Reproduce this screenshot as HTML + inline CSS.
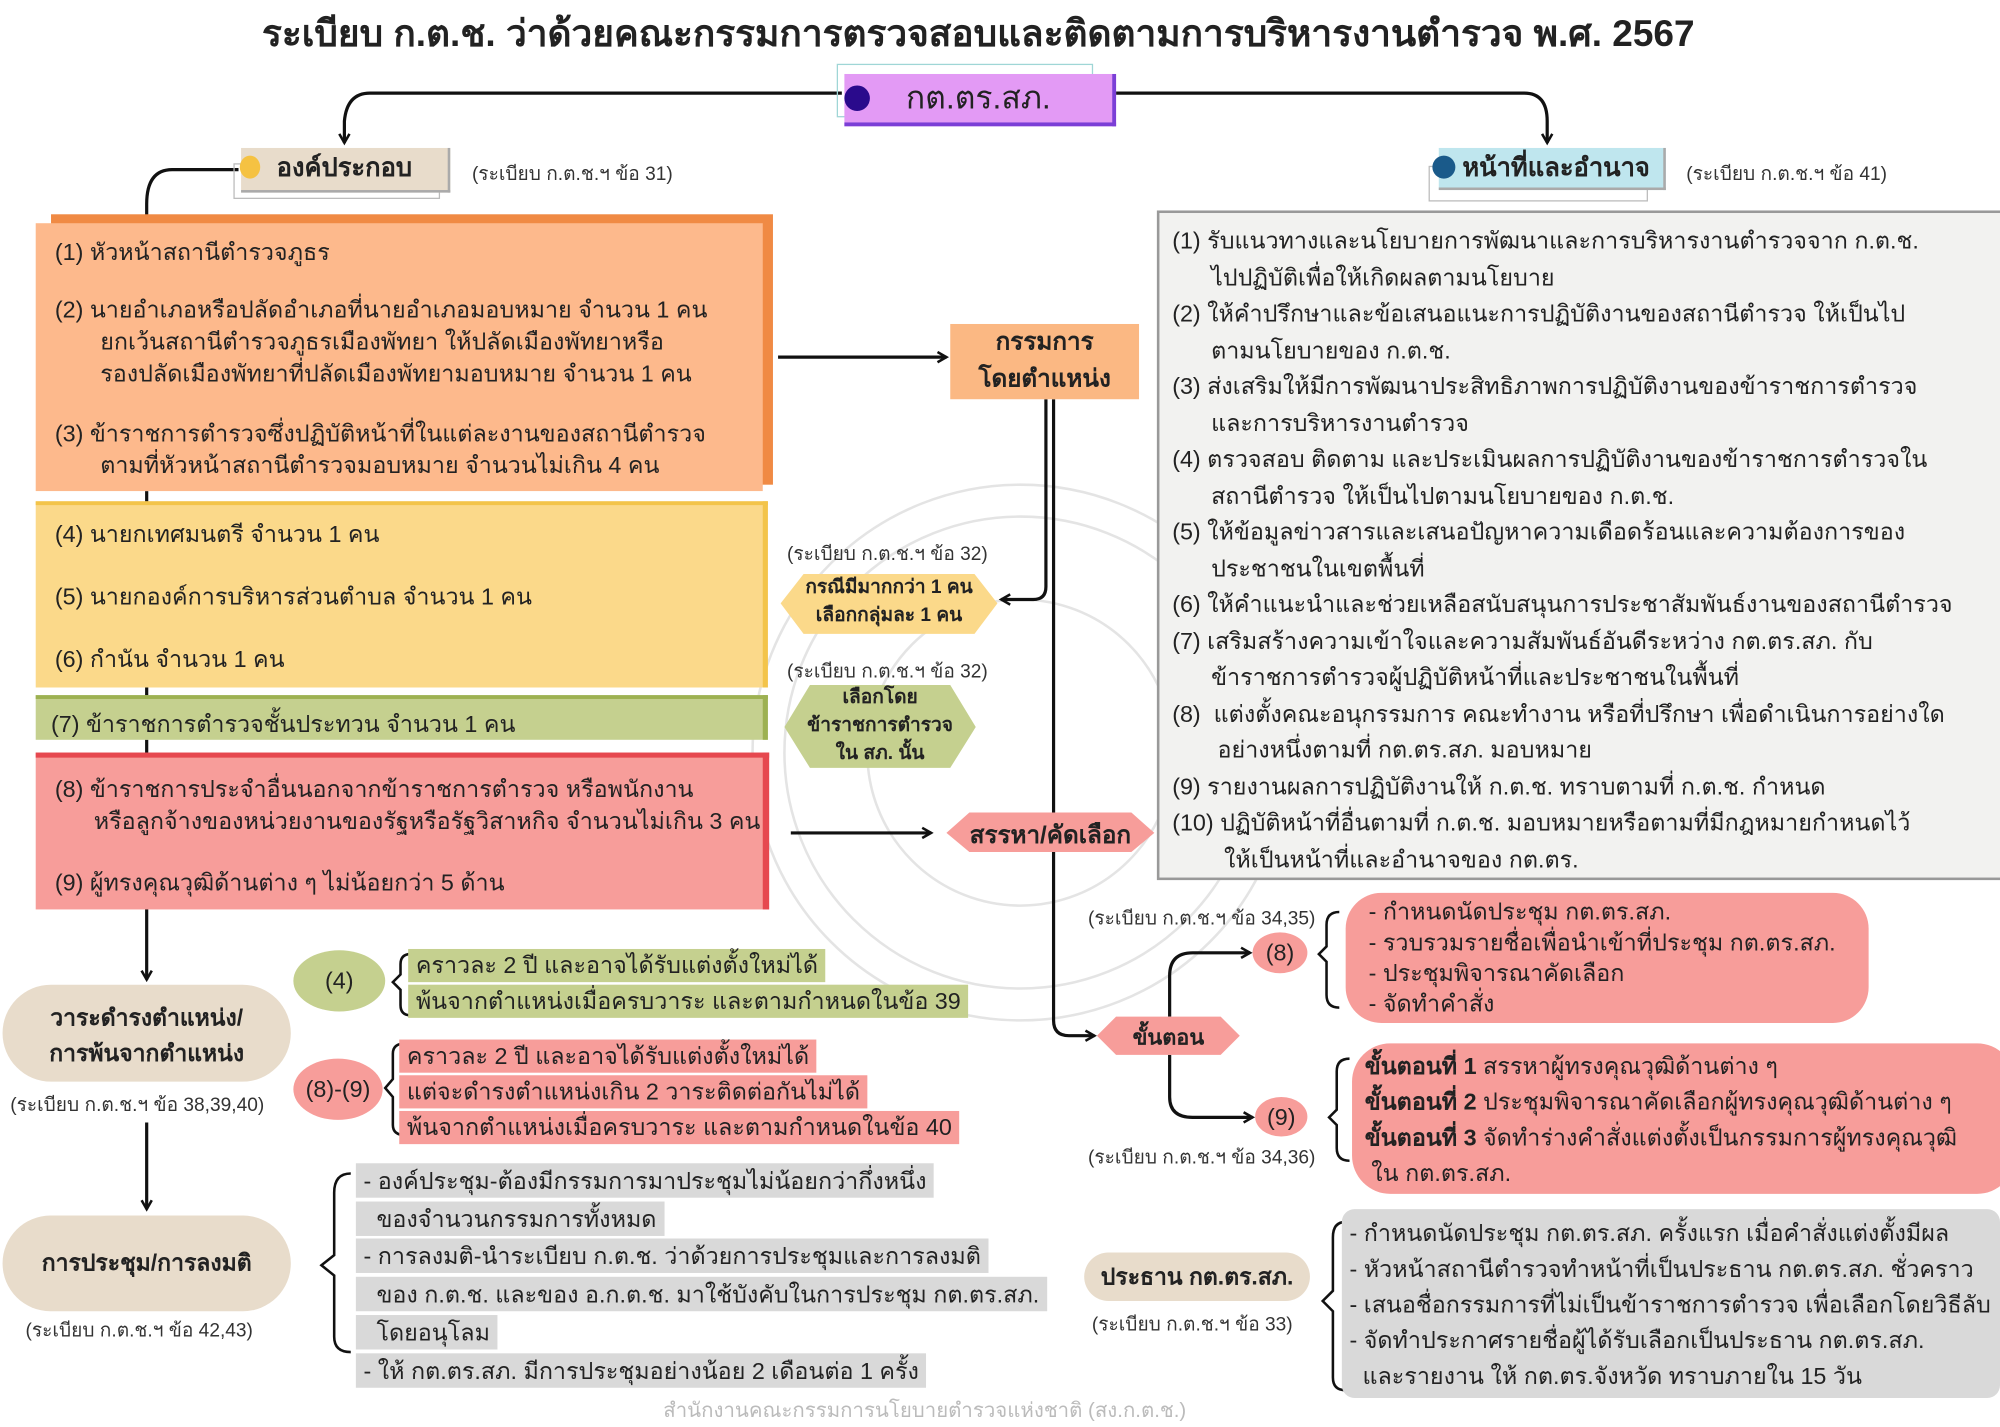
<!DOCTYPE html>
<html><head><meta charset="utf-8">
<style>
html,body{margin:0;padding:0;background:#fff;}
body{width:2000px;height:1414px;overflow:hidden;position:relative;}
#s{position:absolute;left:0;top:0;width:1568px;height:1109px;transform:scale(1.27551);transform-origin:0 0;font-family:"Liberation Sans","Noto Sans CJK SC",sans-serif;color:#222;}
.a{position:absolute;white-space:nowrap;}
.t{font-size:18.3px;line-height:25px;}
.n{font-size:14px;color:#333;}
.b{font-weight:bold;}
.hl{display:inline-block;padding:0 6px;margin:1px 0;}
</style></head><body><div id="s">
<svg class="a" style="left:0;top:0" width="1568" height="1109">
<defs><marker id="ar" markerWidth="10" markerHeight="10" refX="8" refY="5" orient="auto" markerUnits="userSpaceOnUse"><path d="M1,1 L8,5 L1,9" fill="none" stroke="#111" stroke-width="2"/></marker></defs>
<g fill="none" stroke="#e4e4e4" stroke-width="2">
<circle cx="800" cy="590" r="210"/><circle cx="800" cy="590" r="185"/><circle cx="800" cy="590" r="120"/>
</g>
<g fill="none" stroke="#111" stroke-width="2.5">
<path d="M660,73 H290 Q272,73 270,95 V112" marker-end="url(#ar)"/>
<path d="M875,73 H1195 Q1213,73 1213,95 V112" marker-end="url(#ar)"/>
<path d="M187,133 H135 Q115,133 115,160 V170"/>
<path d="M610,280 H742" marker-end="url(#ar)"/>
<path d="M820,313 V460 Q820,470 810,470 H785" marker-end="url(#ar)"/>
<path d="M826,313 V800 Q826,812 838,812 H858" marker-end="url(#ar)"/>
<path d="M620,653 H730" marker-end="url(#ar)"/>
<path d="M115,385 V395 M115,538 V548 M115,580 V592"/>
<path d="M115,712 V768" marker-end="url(#ar)"/>
<path d="M115,880 V948" marker-end="url(#ar)"/>
<path d="M917,797 V765 Q917,747 935,747 H980" marker-end="url(#ar)"/>
<path d="M917,827 V860 Q917,876 935,876 H982" marker-end="url(#ar)"/>
<path d="M1050,715 Q1040,715 1040,725 V742 L1034,748 L1040,754 V780 Q1040,790 1050,790" stroke-width="2"/>
<path d="M1058,830 Q1048,830 1048,840 V870 L1042,876 L1048,882 V900 Q1048,910 1058,910" stroke-width="2"/>
<path d="M322,748 Q314,748 314,756 V764 L308,770 L314,776 V788 Q314,796 322,796" stroke-width="2"/>
<path d="M318,818 Q308,818 308,826 V846 L302,853 L308,860 V882 Q308,890 318,890" stroke-width="2"/>
<path d="M275,920 Q262,920 262,935 V984 L252,992 L262,1000 V1048 Q262,1060 275,1060" stroke-width="2"/>
<path d="M1055,958 Q1045,958 1045,970 V1012 L1037,1020 L1045,1028 V1080 Q1045,1090 1055,1090" stroke-width="2"/>
</g>
<polygon points="630,450 764,450 782,473 764,497 630,497 612,473" fill="#fbd98a"/>
<polygon points="635,537 745,537 765,570 745,602 635,602 615,570" fill="#c5d08f"/>
<polygon points="760,637 887,637 905,653 887,668 760,668 742,653" fill="#f79d9a"/>
<polygon points="875,797 957,797 972,812 957,827 875,827 860,812" fill="#f79d9a"/>
<g>
<rect x="490" y="440" width="38" height="30" fill="#c9413c"/><rect x="525" y="430" width="30" height="28" fill="#7a6b6a"/>
<rect x="545" y="450" width="30" height="30" fill="#e6483f"/><rect x="480" y="470" width="30" height="35" fill="#2d3a4a"/>
<rect x="510" y="480" width="35" height="35" fill="#e67b3a"/><rect x="540" y="485" width="32" height="48" fill="#f2b830"/>
<rect x="490" y="505" width="30" height="30" fill="#f2b830"/><rect x="515" y="510" width="30" height="25" fill="#1d2833"/>
<rect x="455" y="440" width="20" height="95" fill="none" stroke="#7a5a3a" stroke-width="2"/>
<circle cx="470" cy="448" r="6" fill="#333"/><circle cx="585" cy="483" r="6" fill="#333"/>
<rect x="578" y="490" width="12" height="30" fill="#e6483f"/>
</g>
</svg>

<div class="a b" style="left:0;width:1534px;top:3px;text-align:center;font-size:29px;">ระเบียบ ก.ต.ช. ว่าด้วยคณะกรรมการตรวจสอบและติดตามการบริหารงานตำรวจ พ.ศ. 2567</div>

<div class="a" style="left:656px;top:50px;width:199px;height:40px;border:1px solid #9fd6d6;"></div>
<div class="a" style="left:662px;top:58px;width:210px;height:38px;background:#e39af5;border-right:3px solid #7b3fd6;border-bottom:3px solid #7b3fd6;font-size:25px;line-height:38px;text-align:center;">กต.ตร.สภ.</div>
<div class="a" style="left:662px;top:67px;width:20px;height:20px;border-radius:50%;background:#2a0a8c;"></div>

<div class="a" style="left:183px;top:128px;width:160px;height:26px;border:1px solid #bbb;"></div>
<div class="a b" style="left:189px;top:116px;width:162px;height:33px;background:#e8dccb;border-right:2px solid #aaa;border-bottom:2px solid #aaa;font-size:20px;line-height:33px;text-align:center;">องค์ประกอบ</div>
<div class="a" style="left:188px;top:122px;width:16px;height:18px;border-radius:50%;background:#f5c242;"></div>
<div class="a n" style="left:370px;top:124px;font-size:15px;">(ระเบียบ ก.ต.ช.ฯ ข้อ 31)</div>

<div class="a" style="left:1120px;top:130px;width:170px;height:26px;border:1px solid #bbb;"></div>
<div class="a b" style="left:1128px;top:116px;width:178px;height:33px;background:#bfe6ee;border-right:2px solid #aaa;border-bottom:2px solid #aaa;font-size:20px;line-height:33px;text-align:center;padding-left:8px;box-sizing:border-box;">หน้าที่และอำนาจ</div>
<div class="a" style="left:1123px;top:122px;width:18px;height:18px;border-radius:50%;background:#1a5a8a;"></div>
<div class="a n" style="left:1322px;top:124px;font-size:15px;">(ระเบียบ ก.ต.ช.ฯ ข้อ 41)</div>

<div class="a" style="left:40px;top:168px;width:566px;height:212px;background:#f08a44;"></div>
<div class="a t" style="left:28px;top:175px;width:570px;height:210px;background:#fdb98c;padding:0;">
<div class="a" style="left:15px;top:10px;">(1) หัวหน้าสถานีตำรวจภูธร</div>
<div class="a" style="left:15px;top:55px;">(2) นายอำเภอหรือปลัดอำเภอที่นายอำเภอมอบหมาย จำนวน 1 คน<br>&nbsp;&nbsp;&nbsp;&nbsp;&nbsp;&nbsp;&nbsp;ยกเว้นสถานีตำรวจภูธรเมืองพัทยา ให้ปลัดเมืองพัทยาหรือ<br>&nbsp;&nbsp;&nbsp;&nbsp;&nbsp;&nbsp;&nbsp;รองปลัดเมืองพัทยาที่ปลัดเมืองพัทยามอบหมาย จำนวน 1 คน</div>
<div class="a" style="left:15px;top:152px;">(3) ข้าราชการตำรวจซึ่งปฏิบัติหน้าที่ในแต่ละงานของสถานีตำรวจ<br>&nbsp;&nbsp;&nbsp;&nbsp;&nbsp;&nbsp;&nbsp;ตามที่หัวหน้าสถานีตำรวจมอบหมาย จำนวนไม่เกิน 4 คน</div>
</div>
<div class="a t" style="left:28px;top:393px;width:570px;height:143px;background:#fbd98a;border-top:3px solid #f3c44a;border-right:4px solid #f3c44a;">
<div class="a" style="left:15px;top:10px;">(4) นายกเทศมนตรี จำนวน 1 คน</div>
<div class="a" style="left:15px;top:59px;">(5) นายกองค์การบริหารส่วนตำบล จำนวน 1 คน</div>
<div class="a" style="left:15px;top:108px;">(6) กำนัน จำนวน 1 คน</div>
</div>
<div class="a t" style="left:28px;top:545px;width:570px;height:32px;background:#c5d08f;border-top:3px solid #9db152;border-right:4px solid #9db152;"><div class="a" style="left:12px;top:7px;">(7) ข้าราชการตำรวจชั้นประทวน จำนวน 1 คน</div></div>
<div class="a t" style="left:28px;top:590px;width:570px;height:119px;background:#f79d9a;border-top:4px solid #e6484f;border-right:5px solid #e6484f;">
<div class="a" style="left:15px;top:12px;">(8) ข้าราชการประจำอื่นนอกจากข้าราชการตำรวจ หรือพนักงาน<br>&nbsp;&nbsp;&nbsp;&nbsp;&nbsp;&nbsp;หรือลูกจ้างของหน่วยงานของรัฐหรือรัฐวิสาหกิจ จำนวนไม่เกิน 3 คน</div>
<div class="a" style="left:15px;top:85px;">(9) ผู้ทรงคุณวุฒิด้านต่าง ๆ ไม่น้อยกว่า 5 ด้าน</div>
</div>

<div class="a b" style="left:745px;top:254px;width:148px;height:59px;background:#fbb883;font-size:19px;line-height:29px;text-align:center;">กรรมการ<br>โดยตำแหน่ง</div>
<div class="a n" style="left:617px;top:422px;font-size:15px;">(ระเบียบ ก.ต.ช.ฯ ข้อ 32)</div>
<div class="a b" style="left:612px;top:450px;width:170px;font-size:15px;line-height:22px;text-align:center;">กรณีมีมากกว่า 1 คน<br>เลือกกลุ่มละ 1 คน</div>
<div class="a n" style="left:617px;top:514px;font-size:15px;">(ระเบียบ ก.ต.ช.ฯ ข้อ 32)</div>
<div class="a b" style="left:615px;top:536px;width:150px;font-size:15px;line-height:22px;text-align:center;">เลือกโดย<br>ข้าราชการตำรวจ<br>ใน สภ. นั้น</div>
<div class="a b" style="left:742px;top:640px;width:163px;font-size:19px;text-align:center;">สรรหา/คัดเลือก</div>
<div class="a b" style="left:860px;top:800px;width:112px;font-size:17px;text-align:center;">ขั้นตอน</div>

<div class="a t" style="left:907px;top:165px;width:659px;height:521px;background:#f2f2f0;border:2px solid #999;line-height:28.5px;">
<div class="a" style="left:10px;top:8px;">(1) รับแนวทางและนโยบายการพัฒนาและการบริหารงานตำรวจจาก ก.ต.ช.<br>&nbsp;&nbsp;&nbsp;&nbsp;&nbsp;&nbsp;ไปปฏิบัติเพื่อให้เกิดผลตามนโยบาย<br>(2) ให้คำปรึกษาและข้อเสนอแนะการปฏิบัติงานของสถานีตำรวจ ให้เป็นไป<br>&nbsp;&nbsp;&nbsp;&nbsp;&nbsp;&nbsp;ตามนโยบายของ ก.ต.ช.<br>(3) ส่งเสริมให้มีการพัฒนาประสิทธิภาพการปฏิบัติงานของข้าราชการตำรวจ<br>&nbsp;&nbsp;&nbsp;&nbsp;&nbsp;&nbsp;และการบริหารงานตำรวจ<br>(4) ตรวจสอบ ติดตาม และประเมินผลการปฏิบัติงานของข้าราชการตำรวจใน<br>&nbsp;&nbsp;&nbsp;&nbsp;&nbsp;&nbsp;สถานีตำรวจ ให้เป็นไปตามนโยบายของ ก.ต.ช.<br>(5) ให้ข้อมูลข่าวสารและเสนอปัญหาความเดือดร้อนและความต้องการของ<br>&nbsp;&nbsp;&nbsp;&nbsp;&nbsp;&nbsp;ประชาชนในเขตพื้นที่<br>(6) ให้คำแนะนำและช่วยเหลือสนับสนุนการประชาสัมพันธ์งานของสถานีตำรวจ<br>(7) เสริมสร้างความเข้าใจและความสัมพันธ์อันดีระหว่าง กต.ตร.สภ. กับ<br>&nbsp;&nbsp;&nbsp;&nbsp;&nbsp;&nbsp;ข้าราชการตำรวจผู้ปฏิบัติหน้าที่และประชาชนในพื้นที่<br>(8)&nbsp; แต่งตั้งคณะอนุกรรมการ คณะทำงาน หรือที่ปรึกษา เพื่อดำเนินการอย่างใด<br>&nbsp;&nbsp;&nbsp;&nbsp;&nbsp;&nbsp;&nbsp;อย่างหนึ่งตามที่ กต.ตร.สภ. มอบหมาย<br>(9) รายงานผลการปฏิบัติงานให้ ก.ต.ช. ทราบตามที่ ก.ต.ช. กำหนด<br>(10) ปฏิบัติหน้าที่อื่นตามที่ ก.ต.ช. มอบหมายหรือตามที่มีกฎหมายกำหนดไว้<br>&nbsp;&nbsp;&nbsp;&nbsp;&nbsp;&nbsp;&nbsp;&nbsp;ให้เป็นหน้าที่และอำนาจของ กต.ตร.</div>
</div>

<div class="a n" style="left:853px;top:708px;font-size:15px;">(ระเบียบ ก.ต.ช.ฯ ข้อ 34,35)</div>
<div class="a n" style="left:853px;top:895px;font-size:15px;">(ระเบียบ ก.ต.ช.ฯ ข้อ 34,36)</div>
<div class="a t" style="left:982px;top:731px;width:43px;height:32px;border-radius:50%;background:#f79d9a;text-align:center;line-height:32px;">(8)</div>
<div class="a t" style="left:984px;top:860px;width:41px;height:31px;border-radius:50%;background:#f79d9a;text-align:center;line-height:31px;">(9)</div>
<div class="a t" style="left:1055px;top:700px;width:410px;height:102px;border-radius:28px;background:#f79d9a;line-height:24px;"><div class="a" style="left:18px;top:3px;">- กำหนดนัดประชุม กต.ตร.สภ.<br>- รวบรวมรายชื่อเพื่อนำเข้าที่ประชุม กต.ตร.สภ.<br>- ประชุมพิจารณาคัดเลือก<br>- จัดทำคำสั่ง</div></div>
<div class="a t" style="left:1060px;top:818px;width:520px;height:118px;border-radius:30px;background:#f79d9a;line-height:28px;"><div class="a" style="left:10px;top:4px;"><b>ขั้นตอนที่ 1</b> สรรหาผู้ทรงคุณวุฒิด้านต่าง ๆ<br><b>ขั้นตอนที่ 2</b> ประชุมพิจารณาคัดเลือกผู้ทรงคุณวุฒิด้านต่าง ๆ<br><b>ขั้นตอนที่ 3</b> จัดทำร่างคำสั่งแต่งตั้งเป็นกรรมการผู้ทรงคุณวุฒิ<br>&nbsp;ใน กต.ตร.สภ.</div></div>

<div class="a b" style="left:850px;top:982px;width:177px;height:38px;border-radius:19px;background:#e8dccb;font-size:18px;line-height:38px;text-align:center;">ประธาน กต.ตร.สภ.</div>
<div class="a n" style="left:856px;top:1026px;font-size:15px;">(ระเบียบ ก.ต.ช.ฯ ข้อ 33)</div>
<div class="a t" style="left:1052px;top:948px;width:516px;height:148px;border-radius:10px;background:#d9d9d9;line-height:28px;"><div class="a" style="left:6px;top:5px;">- กำหนดนัดประชุม กต.ตร.สภ. ครั้งแรก เมื่อคำสั่งแต่งตั้งมีผล<br>- หัวหน้าสถานีตำรวจทำหน้าที่เป็นประธาน กต.ตร.สภ. ชั่วคราว<br>- เสนอชื่อกรรมการที่ไม่เป็นข้าราชการตำรวจ เพื่อเลือกโดยวิธีลับ<br>- จัดทำประกาศรายชื่อผู้ได้รับเลือกเป็นประธาน กต.ตร.สภ.<br>&nbsp;&nbsp;และรายงาน ให้ กต.ตร.จังหวัด ทราบภายใน 15 วัน</div></div>

<div class="a b" style="left:2px;top:772px;width:226px;height:76px;border-radius:38px;background:#e8dccb;font-size:18px;line-height:28px;text-align:center;padding-top:12px;box-sizing:border-box;">วาระดำรงตำแหน่ง/<br>การพ้นจากตำแหน่ง</div>
<div class="a n" style="left:8px;top:854px;font-size:15px;">(ระเบียบ ก.ต.ช.ฯ ข้อ 38,39,40)</div>
<div class="a t" style="left:230px;top:745px;width:72px;height:48px;border-radius:50%;background:#c5d08f;text-align:center;line-height:48px;">(4)</div>
<div class="a t" style="left:230px;top:830px;width:70px;height:48px;border-radius:50%;background:#f79d9a;text-align:center;line-height:48px;">(8)-(9)</div>
<div class="a t" style="left:320px;top:743px;line-height:28px;"><span class="hl" style="background:#c5d08f;line-height:26px;">คราวละ 2 ปี และอาจได้รับแต่งตั้งใหม่ได้</span><br><span class="hl" style="background:#c5d08f;line-height:26px;">พ้นจากตำแหน่งเมื่อครบวาระ และตามกำหนดในข้อ 39</span></div>
<div class="a t" style="left:313px;top:814px;line-height:28px;"><span class="hl" style="background:#f79d9a;line-height:26px;">คราวละ 2 ปี และอาจได้รับแต่งตั้งใหม่ได้</span><br><span class="hl" style="background:#f79d9a;line-height:26px;">แต่จะดำรงตำแหน่งเกิน 2 วาระติดต่อกันไม่ได้</span><br><span class="hl" style="background:#f79d9a;line-height:26px;">พ้นจากตำแหน่งเมื่อครบวาระ และตามกำหนดในข้อ 40</span></div>

<div class="a b" style="left:2px;top:953px;width:226px;height:75px;border-radius:38px;background:#e8dccb;font-size:18px;line-height:75px;text-align:center;">การประชุม/การลงมติ</div>
<div class="a n" style="left:20px;top:1031px;font-size:15px;">(ระเบียบ ก.ต.ช.ฯ ข้อ 42,43)</div>
<div class="a t" style="left:279px;top:911px;line-height:28.7px;"><span class="hl" style="background:#d9d9d9;line-height:27px;">- องค์ประชุม-ต้องมีกรรมการมาประชุมไม่น้อยกว่ากึ่งหนึ่ง</span><br><span class="hl" style="background:#d9d9d9;line-height:27px;">&nbsp;&nbsp;ของจำนวนกรรมการทั้งหมด</span><br><span class="hl" style="background:#d9d9d9;line-height:27px;">- การลงมติ-นำระเบียบ ก.ต.ช. ว่าด้วยการประชุมและการลงมติ</span><br><span class="hl" style="background:#d9d9d9;line-height:27px;">&nbsp;&nbsp;ของ ก.ต.ช. และของ อ.ก.ต.ช. มาใช้บังคับในการประชุม กต.ตร.สภ.</span><br><span class="hl" style="background:#d9d9d9;line-height:27px;">&nbsp;&nbsp;โดยอนุโลม</span><br><span class="hl" style="background:#d9d9d9;line-height:27px;">- ให้ กต.ตร.สภ. มีการประชุมอย่างน้อย 2 เดือนต่อ 1 ครั้ง</span></div>

<div class="a" style="left:520px;top:1094px;font-size:16px;color:#bbb;">สำนักงานคณะกรรมการนโยบายตำรวจแห่งชาติ (สง.ก.ต.ช.)</div>
</div></body></html>
